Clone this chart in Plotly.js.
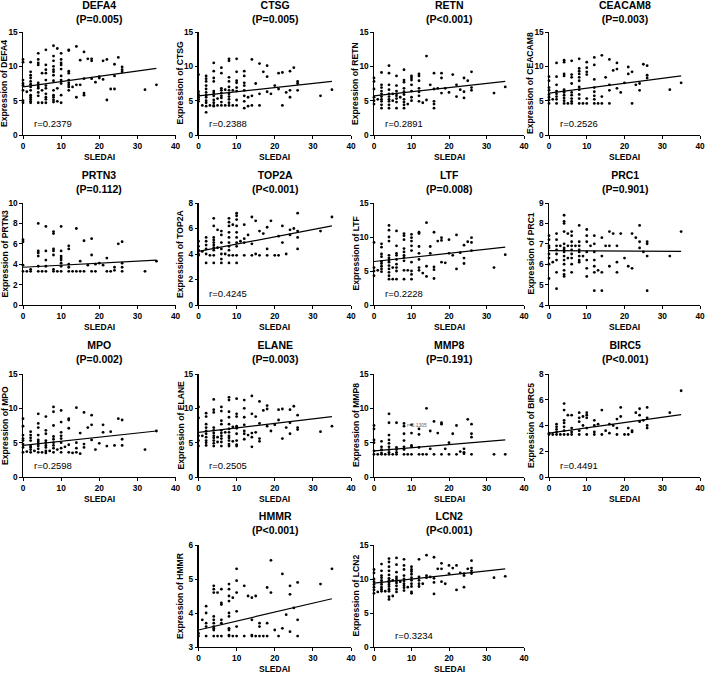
<!DOCTYPE html>
<html>
<head>
<meta charset="utf-8">
<script src="https://cdn.plot.ly/plotly-3.0.1.min.js"></script>
<style>html,body{margin:0;padding:0;background:#fff;}#chart{width:708px;height:678px;}</style>
</head>
<body>
<div id="chart"></div>
<script>
// ---- DATA ----
const genes = ['DEFA4','CTSG','RETN','CEACAM8','PRTN3','TOP2A','LTF','PRC1','MPO','ELANE','MMP8','BIRC5','HMMR','LCN2'];
const pValues = ['P=0.005','P=0.005','P<0.001','P=0.003','P=0.112','P<0.001','P=0.008','P=0.901','P=0.002','P=0.003','P=0.191','P<0.001','P<0.001','P<0.001'];
const rValues = ['r=0.2379','r=0.2388','r=0.2891','r=0.2526','','r=0.4245','r=0.2228','','r=0.2598','r=0.2505','','r=0.4491','','r=0.3234'];
const fitX = [0, 35];
const fitAt0  = [7.0, 5.7, 5.7, 6.1, 3.7, 4.2, 6.4, 6.67, 4.6, 6.5, 3.8, 3.4, 3.5, 9.4];
const fitAt35 = [9.7, 7.8, 7.8, 8.6, 4.4, 6.2, 8.5, 6.63, 6.7, 8.8, 5.4, 4.85, 4.42, 11.5];
const yMin  = [0,0,0,0,0,0,0,4,0,0,0,0,3,0];
const yMax  = [15,15,15,15,10,8,15,9,15,15,15,8,6,15];
const yStep = [5,5,5,5,2,2,5,1,5,5,5,2,1,5];
const xTicks = [0,10,20,30,40];

// each entry: [SLEDAI, [expression values at that SLEDAI]]
const DEFA4 = [[0,[11.0,10.6,8.0,7.5,7.2,6.5,5.0,4.7]],[1,[6.3]],[2,[10.6,9.2,8.7,8.3,7.8,7.4,7.0,6.5,5.8,5.5,5.2,4.9,4.7]],[4,[11.9,11.0,10.5,10.2,7.6,7.3,7.0,6.8,6.2,5.7,4.7]],[5,[9.0,6.5,4.7]],[6,[12.4,10.2,9.5,9.0,8.0,7.2,6.8,6.0,5.5,5.2,4.7]],[8,[13.0,11.5,10.8,10.0,9.5,9.2,8.7,7.9,6.5,5.8,5.5,5.1,4.8]],[9,[12.6,6.8,4.9]],[10,[11.9,11.0,10.5,10.2,9.6,8.6,8.0,7.5,5.8,4.7]],[12,[12.4,12.3,9.3,9.0,8.0,7.6,7.3,7.0,6.5]],[13,[7.0]],[14,[12.9,7.3,5.5]],[15,[10.9,7.3]],[16,[12.1,8.2,6.1,5.8]],[17,[11.1]],[18,[11.1,10.8,8.2]],[19,[7.7]],[20,[8.5,8.3]],[21,[10.8,8.1]],[22,[11.0,5.1]],[23,[6.7]],[24,[10.3,8.6,6.7]],[25,[11.3]],[26,[9.9,9.5,9.2]],[32,[6.6]],[35,[7.3]]];
const CTSG = [[0,[8.8,6.3,5.9,5.5,5.2,4.9]],[1,[4.3]],[2,[8.6,8.2,7.8,7.2,6.7,6.2,5.8,5.5,5.0,4.7,4.2,3.3]],[3,[4.3]],[4,[10.5,9.3,8.3,7.8,6.4,6.1,5.7,5.1,4.7,4.3,4.2]],[5,[5.3,4.3]],[6,[9.8,9.0,6.8,6.5,6.1,5.7,5.4,4.8,4.3]],[7,[6.6,4.3]],[8,[11.1,10.8,8.4,7.8,7.0,6.5,6.0,5.6,5.2,4.7,4.3]],[9,[6.5,4.3]],[10,[11.1,9.2,7.9,7.6,6.9,6.4,5.1,4.3]],[12,[9.3,8.6,7.6,7.2,6.5,5.7,4.9,3.9]],[13,[5.5,4.2]],[14,[11.0,5.7,4.3]],[15,[7.5]],[16,[10.4,6.0,4.3]],[17,[9.2]],[18,[10.1,8.5,6.3]],[19,[6.0]],[20,[7.2]],[21,[9.0,6.7]],[22,[9.1,4.3]],[23,[6.2]],[24,[9.3,6.5,5.5]],[25,[9.8]],[26,[7.8,7.5,6.5]],[32,[5.7]],[35,[6.6]]];
const RETN = [[0,[8.3,7.8,6.7,5.5,5.0,4.5]],[1,[5.2]],[2,[9.1,7.3,6.9,6.4,6.0,5.6,5.2,4.9,4.4,3.9]],[4,[10.1,9.0,7.3,6.6,6.0,5.6,5.2,4.9,4.4,3.9]],[5,[6.0,5.0]],[6,[8.6,7.2,6.4,6.0,5.7,5.3,4.8,3.9]],[7,[5.5]],[8,[9.5,8.0,7.7,6.8,6.3,5.9,5.2,4.8,4.4,3.9]],[9,[4.5]],[10,[8.6,8.3,8.0,7.3,6.4,5.5,5.0]],[12,[8.9,8.6,7.9,6.8,6.3,5.7,4.9]],[13,[4.7]],[14,[11.5,5.1]],[15,[7.3]],[16,[9.0,6.7,4.9,4.5,3.9]],[17,[6.8]],[18,[9.0,8.3,6.1]],[19,[6.8]],[20,[6.2]],[21,[8.8]],[22,[7.3,5.6]],[23,[6.6]],[24,[8.3,6.3,5.4]],[25,[7.9]],[26,[9.2,6.9,6.5]],[32,[6.1]],[35,[7.0]]];
const CEACAM8 = [[0,[8.5,7.9,6.9,6.5,5.9,5.5,5.1,4.6]],[1,[5.2]],[2,[10.5,8.5,7.3,6.4,6.0,5.6,5.2,4.6]],[4,[10.9,10.6,8.9,8.6,6.6,6.4,6.2,5.8,5.4,5.0,4.6]],[5,[4.6]],[6,[10.8,8.8,8.4,7.5,6.2,5.8,5.3,4.9,4.6]],[8,[11.1,9.7,9.3,8.9,8.4,7.9,7.0,6.6,5.9,5.3,4.6]],[9,[4.6]],[10,[10.6,9.8,9.2,8.8,5.3,4.6]],[12,[11.3,10.2,8.1,6.9,6.3,5.7,5.2,4.6]],[13,[4.6]],[14,[11.6,5.6,4.6]],[15,[8.4]],[16,[11.0,7.3,6.5,4.6]],[17,[9.4]],[18,[10.5,9.6,6.8]],[19,[6.2]],[20,[7.6]],[21,[9.9,8.9]],[22,[9.2,4.6]],[23,[7.3]],[24,[7.5,6.5]],[25,[10.3]],[26,[10.1,8.7,8.3]],[32,[6.6]],[35,[7.6]]];
const PRTN3 = [[0,[6.4,6.2,3.9,3.3]],[1,[3.3]],[2,[3.5,3.3]],[4,[8.0,5.3,5.1,4.8,3.8,3.3]],[5,[3.3]],[6,[7.7,5.3,4.4,3.8,3.3]],[8,[7.2,7.0,5.5,5.3,4.9,3.5,3.3]],[9,[3.3]],[10,[7.7,5.3,4.8,4.6,4.4,4.1,3.8,3.3]],[12,[5.8,5.5,4.0,3.7,3.3]],[13,[3.3]],[14,[7.5,3.3]],[15,[4.3,3.3]],[16,[6.3,3.3]],[17,[3.9]],[18,[6.5,4.9,3.3]],[19,[4.0,3.3]],[20,[4.1]],[21,[3.9]],[22,[4.6,3.3]],[23,[3.3]],[24,[3.7,3.4]],[25,[6.0]],[26,[6.2,4.1,3.7,3.3]],[32,[3.3]],[35,[4.3]]];
const TOP2A = [[0,[5.0,4.6,4.3,4.0,3.9]],[1,[4.2]],[2,[5.3,5.0,4.7,4.4,4.0,3.3]],[3,[3.9]],[4,[6.8,6.2,5.3,5.1,4.9,4.7,4.5,4.3,3.9,3.3]],[5,[5.9,4.5]],[6,[5.8,5.5,4.9,4.4,4.0,3.6,3.3]],[7,[4.0]],[8,[6.8,6.5,6.2,5.7,5.3,4.9,4.6,4.3,3.9,3.3]],[9,[6.3,3.9]],[10,[7.2,7.0,6.7,6.2,5.7,5.3,4.9,4.6,3.9,3.3]],[11,[5.0]],[12,[6.3,5.2,4.9,3.9]],[13,[5.5]],[14,[6.9,4.8,3.9]],[15,[6.6,4.0]],[16,[5.8,3.9]],[17,[5.6]],[18,[6.1,4.4,3.9]],[19,[6.6]],[20,[3.9]],[21,[5.4,3.9]],[22,[6.2,4.9]],[23,[4.0]],[24,[5.9,5.5]],[25,[6.0]],[26,[7.2,5.8,5.3,4.4]],[32,[5.8]],[35,[6.9]]];
const LTF = [[0,[9.2,5.5,5.0,4.3]],[1,[5.1]],[2,[9.0,8.5,7.5,7.1,6.4,6.1,5.7,5.3,4.9]],[4,[11.7,11.0,10.0,9.4,7.3,6.9,6.6,6.3,5.8,5.3,4.8,4.3,3.8]],[5,[5.5,3.8]],[6,[10.9,8.7,7.6,7.3,6.7,6.0,5.5,5.0,3.8]],[8,[10.5,10.2,9.6,8.3,7.8,7.3,7.0,6.5,5.1,3.8]],[9,[5.1]],[10,[10.4,9.9,9.4,8.7,8.0,6.3,5.0,4.5,3.8]],[12,[10.7,10.5,8.6,7.6,6.7,5.5,5.1]],[13,[4.7]],[14,[12.1,5.7,4.2]],[15,[8.6,7.6]],[16,[10.7,5.6,5.2,3.9]],[17,[9.4]],[18,[9.9,9.5,6.3]],[19,[6.2]],[20,[9.6,7.6]],[21,[7.3]],[22,[10.3,5.3]],[23,[7.7]],[24,[8.8,6.9,6.1]],[25,[9.3]],[26,[9.9,9.2,8.0]],[32,[5.5]],[35,[7.4]]];
const PRC1 = [[0,[7.4,7.2,6.9,6.8,6.5,6.3,6.0,5.3]],[1,[6.1]],[2,[7.5,7.2,6.9,6.7,6.5,6.2,5.6,4.8]],[3,[6.9]],[4,[8.4,8.1,8.0,7.6,7.0,6.8,6.7,6.6,6.4,6.2,6.0,5.7,5.5,5.4]],[5,[7.5,6.9,6.3]],[6,[7.6,7.4,7.1,6.9,6.7,6.5,6.3,6.0,5.6]],[7,[6.9]],[8,[7.9,7.1,6.9,6.7,6.6,6.4,6.2,6.1]],[9,[6.4]],[10,[7.7,7.4,7.1,6.6,6.2,5.8,5.4]],[11,[6.9]],[12,[7.4,7.0,6.6,6.2,5.9,5.6,4.7]],[13,[5.7]],[14,[7.3,6.4,5.6,4.7]],[15,[6.9]],[16,[7.6,6.9,5.9]],[17,[7.5]],[18,[6.9,6.1,5.6]],[19,[7.5]],[20,[6.3]],[21,[5.9]],[22,[7.5,5.8]],[23,[7.3]],[24,[7.9,7.1,6.8]],[25,[6.6]],[26,[7.1,7.0,6.4,4.7]],[32,[6.4]],[35,[7.6]]];
const MPO = [[0,[8.5,7.4,6.1,5.6,5.3,4.8,4.3,3.6]],[1,[3.7]],[2,[6.6,6.1,5.7,5.3,4.5,4.3,4.0,3.6]],[3,[3.8]],[4,[9.2,7.8,7.2,6.1,5.4,5.1,4.8,4.5,4.1,3.6]],[5,[3.6]],[6,[8.8,6.8,6.3,5.3,5.0,4.6,4.3,3.8,3.5]],[7,[3.8]],[8,[10.2,9.5,7.5,5.9,5.5,5.0,4.6,4.2,3.6]],[9,[4.0]],[10,[9.7,8.0,6.5,6.0,5.6,5.0,4.2,3.6]],[11,[4.4]],[12,[8.5,8.3,7.1,4.7,3.6]],[13,[3.5]],[14,[10.1,5.0,4.2,3.6]],[15,[6.4,3.4]],[16,[9.4,4.8,4.3]],[17,[7.2]],[18,[9.0,7.6,5.4]],[19,[4.0]],[20,[4.9]],[21,[7.6,6.5]],[22,[4.5]],[23,[6.6]],[24,[4.6]],[25,[8.5]],[26,[8.3,5.5,4.6]],[32,[4.0]],[35,[6.7]]];
const ELANE = [[0,[10.2,8.6,6.0,5.3,4.5]],[1,[6.0]],[2,[9.3,8.8,7.7,7.2,6.7,6.3,5.8,5.3,5.0,4.6]],[4,[11.3,9.8,9.4,7.2,6.8,6.4,6.0,5.7,5.3,4.9,4.5]],[5,[5.8,5.1]],[6,[10.2,9.6,8.2,7.7,6.8,6.4,6.0,5.6,5.1,4.5]],[7,[6.5]],[8,[11.6,11.2,9.5,8.7,7.7,7.0,6.5,6.0,5.7,5.3,4.8,4.5]],[9,[7.3,5.2]],[10,[11.4,9.2,8.8,7.4,7.1,6.3,5.3,4.7,4.5]],[12,[11.2,10.0,8.7,7.6,6.7,6.3,5.5]],[13,[6.1]],[14,[11.8,9.2,6.4,5.8,4.4]],[15,[8.8,6.5]],[16,[11.0,7.8,5.6,5.2]],[17,[9.7]],[18,[10.4,9.9,7.4]],[19,[6.7]],[20,[7.6]],[21,[9.8,8.3]],[22,[9.9,5.6]],[23,[7.2]],[24,[9.8,7.9,6.3]],[25,[10.3]],[26,[9.0,7.2,6.9]],[32,[6.6]],[35,[7.4]]];
const MMP8 = [[0,[7.5,7.0,5.4,5.0,3.8,3.3]],[1,[3.3]],[2,[5.2,4.4,4.0,3.5,3.3]],[3,[3.3]],[4,[9.2,7.9,6.1,5.4,4.9,4.4,4.0,3.6,3.3]],[5,[3.3]],[6,[7.9,4.3,4.0,3.6,3.3]],[8,[7.8,7.4,6.3,5.3,4.4,4.0,3.3]],[9,[3.3]],[10,[7.6,6.4,4.6,4.4,3.3]],[12,[7.0,6.2,4.3,3.3]],[13,[3.3]],[14,[10.0,3.3]],[15,[6.7,4.1]],[16,[8.1,3.3]],[17,[6.4]],[18,[7.9,7.7,3.3]],[19,[4.1]],[20,[5.0,3.3]],[21,[6.3]],[22,[7.5,3.3]],[23,[3.7]],[24,[4.1,3.6,3.4]],[25,[8.4]],[26,[7.7,6.3,5.8,3.3]],[32,[3.3]],[35,[3.3]]];
const BIRC5 = [[0,[3.4,3.3]],[1,[3.3]],[2,[4.1,3.9,3.7,3.5,3.3]],[3,[3.3]],[4,[5.7,5.2,4.4,4.2,3.9,3.6,3.3]],[5,[4.8,3.3]],[6,[4.8,3.8,3.5,3.3]],[8,[5.0,4.6,4.3,3.6,3.3]],[9,[4.7,4.0]],[10,[5.0,4.8,4.6,3.8,3.3]],[12,[4.4,4.0,3.5,3.3]],[13,[4.1]],[14,[5.2,3.3]],[15,[3.6]],[16,[4.1,3.4]],[17,[4.0]],[18,[4.5,3.8,3.3]],[19,[5.4,4.7]],[20,[3.3]],[21,[3.8,3.3]],[22,[3.6,3.5]],[23,[5.0]],[24,[5.3,4.8,4.3]],[25,[4.4]],[26,[5.4,4.6,4.0,3.8]],[32,[5.0]],[35,[6.7]]];
const HMMR = [[0,[3.4,3.32]],[1,[3.8]],[2,[4.2,4.0,3.7,3.6,3.32]],[4,[4.8,4.7,4.6,3.9,3.8,3.7,3.6,3.55,3.5,3.32]],[5,[4.6,3.32]],[6,[4.7,4.3,4.25,3.8,3.7,3.32]],[8,[4.85,4.7,4.5,4.35,4.0,3.9,3.55,3.5,3.35,3.32]],[9,[4.45,3.32]],[10,[5.3,4.95,4.6,4.05,3.6,3.32]],[12,[4.8,3.32]],[13,[4.5]],[14,[4.45,3.8,3.35,3.32]],[15,[4.5,3.32]],[16,[3.7,3.6,3.32]],[17,[3.32]],[18,[4.75,3.7,3.32]],[19,[5.55,4.6]],[20,[3.5]],[21,[3.32]],[22,[5.15,3.55]],[23,[3.95]],[24,[4.8,4.55,3.45]],[25,[4.15]],[26,[4.9,3.8,3.32]],[32,[4.85]],[35,[5.3]]];
const LCN2 = [[0,[11.4,10.9,10.0,9.6,9.2,8.8,8.4,7.9]],[1,[8.1]],[2,[12.2,11.2,10.5,10.2,9.8,9.5,9.2,8.8,8.5,8.2]],[3,[8.2]],[4,[13.0,12.5,11.8,11.2,10.6,10.1,9.8,9.5,9.2,8.9,8.5,8.2,7.4,7.0]],[5,[9.8,7.5]],[6,[13.1,12.1,11.0,10.3,10.0,9.7,9.4,9.0,8.5,8.1]],[7,[9.6]],[8,[12.9,12.0,11.4,10.5,10.0,9.7,9.3,9.0,8.7,8.3]],[9,[8.8]],[10,[11.8,11.4,11.1,10.7,10.2,9.8,9.3,8.9,8.1,7.9]],[12,[12.9,10.3,9.8,9.3,8.9]],[13,[9.3]],[14,[13.5,10.5,10.2]],[15,[10.3]],[16,[13.2,10.1,9.5,7.8]],[17,[11.5]],[18,[12.3,11.5,9.6]],[19,[9.3]],[20,[12.0,10.8]],[21,[11.6]],[22,[12.0,8.4]],[23,[10.9]],[24,[10.8,10.5,8.8]],[25,[11.5]],[26,[12.7,11.6,11.2,10.8]],[32,[10.2]],[35,[10.4]]];
const panelData = [DEFA4, CTSG, RETN, CEACAM8, PRTN3, TOP2A, LTF, PRC1, MPO, ELANE, MMP8, BIRC5, HMMR, LCN2];

// ---- LAYOUT (pixel geometry) ----
const W = 708, H = 678;
const FONT = 'Liberation Sans, Arial, sans-serif';
const panelCol = [0,1,2,3,0,1,2,3,0,1,2,3,1,2];
const panelRow = [0,0,0,0,1,1,1,1,2,2,2,2,3,3];
const colX0 = [23,198.5,374,549], colX1 = [175.5,351,524,700];
const rowTop = [32,203,374,545], rowBot = [135,305,477,647];
const titleMid = [12,182,352,523];

const traces = [];
const layout = {
  width: W, height: H, margin: {l:0,r:0,t:0,b:0},
  paper_bgcolor: '#fff', plot_bgcolor: '#fff', showlegend: false,
  font: {family: FONT, color: '#000'},
  annotations: []
};

genes.forEach((g, i) => {
  const s = i === 0 ? '' : String(i + 1);
  const c = panelCol[i], r = panelRow[i];
  const x0 = colX0[c], x1 = colX1[c], top = rowTop[r], bot = rowBot[r];
  const xs = [], ys = [];
  panelData[i].forEach(([sx, vals]) => vals.forEach(v => { xs.push(sx); ys.push(v); }));

  traces.push({
    type: 'scatter', mode: 'markers', x: xs, y: ys,
    xaxis: 'x' + s, yaxis: 'y' + s, cliponaxis: false,
    marker: {size: 2.8, color: '#000', symbol: 'circle'}, hoverinfo: 'skip'
  });
  traces.push({
    type: 'scatter', mode: 'lines', x: fitX, y: [fitAt0[i], fitAt35[i]],
    xaxis: 'x' + s, yaxis: 'y' + s, line: {color: '#000', width: 1.2}, hoverinfo: 'skip'
  });

  const tickfont = {family: FONT, size: 8.3, color: '#000', weight: 'bold'};
  layout['xaxis' + s] = {
    domain: [x0 / W, x1 / W], anchor: 'y' + s, range: [0, 40],
    tickvals: xTicks, ticktext: xTicks.map(String),
    showline: true, linecolor: '#000', linewidth: 1.2, mirror: false,
    ticks: 'outside', ticklen: 2.5, tickwidth: 1, tickcolor: '#000',
    showgrid: false, zeroline: false, tickfont: tickfont, fixedrange: true
  };
  layout['yaxis' + s] = {
    domain: [1 - bot / H, 1 - top / H], anchor: 'x' + s, range: [yMin[i], yMax[i]],
    tick0: yMin[i], dtick: yStep[i],
    showline: true, linecolor: '#000', linewidth: 1.2,
    ticks: 'outside', ticklen: 2.5, tickwidth: 1, tickcolor: '#000',
    showgrid: false, zeroline: false, tickfont: tickfont, fixedrange: true
  };

  // panel title
  layout.annotations.push({
    xref: 'paper', yref: 'paper', x: ((x0 + x1) / 2) / W, y: 1 - titleMid[r] / H,
    xanchor: 'center', yanchor: 'middle', showarrow: false, align: 'center',
    text: '<b>' + g + '</b><br><b>(' + pValues[i] + ')</b>',
    font: {family: FONT, size: 10.5, color: '#000'}
  });
  // y axis title
  layout.annotations.push({
    xref: 'paper', yref: 'paper', x: (x0 - 18.5) / W, y: 1 - ((top + bot) / 2) / H,
    xanchor: 'center', yanchor: 'middle', showarrow: false, textangle: -90,
    text: '<b>Expression of ' + g + '</b>',
    font: {family: FONT, size: 8.6, color: '#000'}
  });
  // x axis title
  layout.annotations.push({
    xref: 'paper', yref: 'paper', x: ((x0 + x1) / 2) / W, y: 1 - (bot + 21.5) / H,
    xanchor: 'center', yanchor: 'middle', showarrow: false,
    text: '<b>SLEDAI</b>', font: {family: FONT, size: 8.5, color: '#000'}
  });
  // r label
  if (rValues[i]) {
    const isLCN2 = g === 'LCN2';
    layout.annotations.push({
      xref: 'x' + s, yref: 'y' + s + ' domain', x: isLCN2 ? 5 : 2.3, y: 0.11,
      xanchor: 'left', yanchor: 'middle', showarrow: false,
      text: rValues[i], font: {family: FONT, size: 9.5, color: '#000'}
    });
  }
  if (g === 'MMP8') {
    layout.annotations.push({
      xref: 'x' + s, yref: 'y' + s, x: 8.3, y: 7.6, xanchor: 'left', yanchor: 'middle',
      showarrow: false, text: 'r=0.1305', font: {family: FONT, size: 5, color: '#666'}
    });
  }
});

Plotly.newPlot('chart', traces, layout, {displayModeBar: false, staticPlot: true});
</script>
</body>
</html>
